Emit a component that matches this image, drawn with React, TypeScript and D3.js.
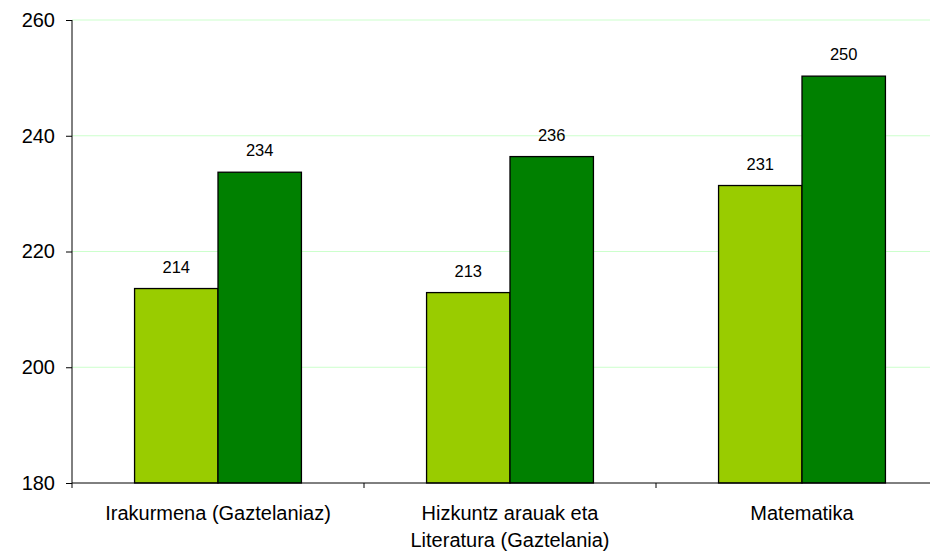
import { useRef, useEffect } from "react";
import { select, scaleBand, scaleLinear, axisLeft, format } from "d3";

// data
const categories = ["Irakurmena (Gaztelaniaz)", "Hizkuntz arauak eta|Literatura (Gaztelania)", "Matematika"];
const seriesNames = ["A", "B"];
const seriesA = [213.6, 212.9, 231.4];
const seriesB = [233.7, 236.4, 250.3];
const yTicks = [180, 200, 220, 240, 260];
const colors = ["#99cc00", "#008000"];

const W = 930;
const H = 555;
const margin = { left: 72, top: 20, right: -18, bottom: 72 };

const App = () => {
  const svgRef = useRef<SVGSVGElement>(null);

  useEffect(() => {
    const svg = select(svgRef.current);
    svg.selectAll("*").remove();

    const x = scaleBand<string>()
      .domain(categories)
      .range([margin.left, W - margin.right])
      .padding(0);
    const xInner = scaleBand<string>()
      .domain(seriesNames)
      .range([0, x.bandwidth()])
      .paddingInner(0)
      .paddingOuter(0.75);
    const y = scaleLinear().domain([180, 260]).range([H - margin.bottom, margin.top]);

    // gridlines
    svg
      .append("g")
      .selectAll("line")
      .data(yTicks.slice(1))
      .join("line")
      .attr("x1", margin.left)
      .attr("x2", W)
      .attr("y1", (d) => y(d))
      .attr("y2", (d) => y(d))
      .attr("stroke", "#ccffcc")
      .attr("stroke-width", 1);

    // bars
    const rows = categories.map((c, i) => ({ c, vals: [seriesA[i], seriesB[i]] }));
    const groups = svg
      .append("g")
      .selectAll("g")
      .data(rows)
      .join("g")
      .attr("transform", (d) => `translate(${x(d.c)},0)`);

    groups
      .selectAll("rect")
      .data((d) => d.vals.map((v, j) => ({ s: seriesNames[j], v, j })))
      .join("rect")
      .attr("x", (d) => xInner(d.s)!)
      .attr("width", xInner.bandwidth())
      .attr("y", (d) => y(d.v))
      .attr("height", (d) => y(180) - y(d.v))
      .attr("fill", (d) => colors[d.j])
      .attr("stroke", "#000")
      .attr("stroke-width", 1.3);

    groups
      .selectAll("text")
      .data((d) => d.vals.map((v, j) => ({ s: seriesNames[j], v })))
      .join("text")
      .attr("x", (d) => xInner(d.s)! + xInner.bandwidth() / 2)
      .attr("y", (d) => y(d.v) - 16)
      .attr("text-anchor", "middle")
      .attr("font-size", 16.5)
      .text((d) => format(".0f")(d.v));

    // y axis
    const yAxis = axisLeft(y).tickValues(yTicks).tickSize(6).tickPadding(11).tickFormat(format("d"));
    const ya = svg
      .append("g")
      .attr("transform", `translate(${margin.left},0)`)
      .call(yAxis);
    ya.select(".domain").remove();
    ya.selectAll(".tick line").attr("stroke", "#000");
    ya.selectAll(".tick text").attr("font-size", 20).attr("font-family", "'Liberation Sans', Arial, sans-serif").attr("fill", "#000");
    svg
      .append("line")
      .attr("x1", margin.left)
      .attr("x2", margin.left)
      .attr("y1", y(260))
      .attr("y2", y(180) + 5)
      .attr("stroke", "#000");

    // x axis
    svg
      .append("line")
      .attr("x1", margin.left)
      .attr("x2", W)
      .attr("y1", y(180))
      .attr("y2", y(180))
      .attr("stroke", "#000");
    svg
      .append("g")
      .selectAll("line")
      .data(categories.slice(1))
      .join("line")
      .attr("x1", (d) => x(d)!)
      .attr("x2", (d) => x(d)!)
      .attr("y1", y(180))
      .attr("y2", y(180) + 5)
      .attr("stroke", "#000");

    const cl = svg
      .append("g")
      .selectAll("text")
      .data(categories)
      .join("text")
      .attr("x", (d) => x(d)! + x.bandwidth() / 2)
      .attr("y", y(180) + 37)
      .attr("text-anchor", "middle")
      .attr("font-size", 20);
    cl.selectAll("tspan")
      .data((d) => d.split("|").map((t, k) => ({ t, k, cx: x(d)! + x.bandwidth() / 2 })))
      .join("tspan")
      .attr("x", (d) => d.cx)
      .attr("dy", (d) => (d.k === 0 ? 0 : 27))
      .text((d) => d.t);
  }, []);

  return (
    <svg
      ref={svgRef}
      width={W}
      height={H}
      style={{ position: "absolute", left: 0, top: 0, background: "#fff" }}
      fontFamily="'Liberation Sans', Arial, sans-serif"
    ></svg>
  );
};

export default App;
